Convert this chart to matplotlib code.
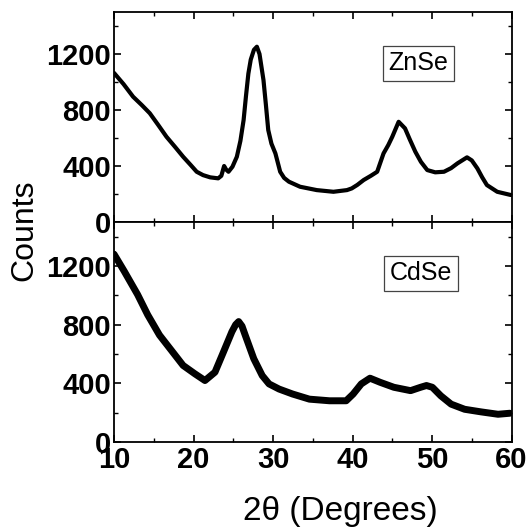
import matplotlib
matplotlib.use('Agg')
import matplotlib.pyplot as plt
from matplotlib.ticker import MultipleLocator

plt.rcParams.update({
    'font.family': ['Liberation Sans', 'DejaVu Sans'],
    'axes.linewidth': 1.3,
    'xtick.direction': 'in',
    'ytick.direction': 'in',
    'xtick.major.size': 5,
    'ytick.major.size': 5,
    'xtick.minor.size': 3,
    'ytick.minor.size': 3,
    'xtick.major.width': 1.2,
    'ytick.major.width': 1.2,
    'xtick.minor.width': 1.0,
    'ytick.minor.width': 1.0,
})

# ZnSe pattern
znse_2theta = [10.0, 11.2, 12.4, 13.5, 14.5, 15.6, 16.6, 17.7, 18.7, 19.6, 20.4,
               21.2, 22.1, 23.1, 23.5, 23.85, 24.1, 24.4, 24.9, 25.45, 25.9,
               26.3, 26.6, 26.9, 27.2, 27.6, 27.97, 28.3, 28.8, 29.1, 29.4,
               29.8, 30.3, 30.9, 31.4, 32.0, 33.4, 35.5, 37.6, 39.3, 39.9,
               40.6, 41.4, 42.3, 43.1, 43.9, 44.5, 45.0, 45.8, 46.6, 47.2,
               47.9, 48.6, 49.4, 50.4, 51.5, 52.4, 53.2, 54.4, 55.0, 55.7,
               56.3, 56.9, 58.2, 59.9]
znse_counts = [1065, 985, 895, 835, 777, 690, 609, 535, 466, 410, 359,
               335, 319, 312, 330, 400, 375, 359, 395, 466, 580,
               728, 900, 1060, 1160, 1230, 1252, 1200, 1014, 840, 657,
               560, 490, 359, 315, 288, 252, 228, 216, 228, 240,
               265, 300, 330, 359, 490, 550, 609, 716, 669, 590,
               502, 430, 371, 355, 359, 385, 419, 462, 440, 383,
               320, 264, 216, 193]

# CdSe pattern
cdse_2theta = [10.0, 11.27, 12.97, 14.24, 15.72, 17.2, 18.69, 20.17, 21.44,
               22.7, 23.77, 24.83, 25.3, 25.68, 26.1, 26.5, 27.58, 28.64, 29.5,
               30.76, 32.46, 34.58, 37.1, 39.2, 40.08, 41.1, 42.2, 43.47,
               45.2, 47.3, 48.56, 49.3, 50.04, 51.1, 52.4, 54.1, 56.2, 58.3,
               59.8]
cdse_counts = [1281, 1166, 1005, 867, 729, 626, 522, 465, 419,
               476, 614, 752, 800, 821, 790, 729, 568, 453, 396,
               361, 327, 292, 281, 281, 327, 396, 435, 407,
               373, 350, 373, 385, 373, 315, 258, 223, 205, 189,
               196]

x_ticks = [10, 20, 30, 40, 50, 60]
y_ticks = [0, 400, 800, 1200]

fig = plt.figure(figsize=(5.29, 5.29), dpi=100)
ax_top = fig.add_axes([0.2155, 0.5803, 0.7515, 0.397])
ax_bot = fig.add_axes([0.2155, 0.1645, 0.7515, 0.4158])

ax_top.plot(znse_2theta, znse_counts, color='black', lw=3.0,
            solid_joinstyle='round', solid_capstyle='round')
ax_bot.plot(cdse_2theta, cdse_counts, color='black', lw=5.0,
            solid_joinstyle='round', solid_capstyle='round')

for ax, name, pos in [(ax_top, 'ZnSe', (0.765, 0.757)),
                      (ax_bot, 'CdSe', (0.772, 0.768))]:
    ax.set_xlim(10, 60)
    ax.set_ylim(0, 1500)
    ax.set_xticks(x_ticks)
    ax.set_yticks(y_ticks)
    ax.xaxis.set_minor_locator(MultipleLocator(5))
    ax.yaxis.set_minor_locator(MultipleLocator(200))
    ax.tick_params(which='both', top=True, right=True)
    ax.tick_params(axis='y', which='major', pad=2)
    ax.tick_params(axis='x', which='major', pad=3)
    for lab in ax.get_yticklabels() + ax.get_xticklabels():
        lab.set_fontsize(21)
        lab.set_fontweight('bold')
    ax.text(pos[0], pos[1], name, transform=ax.transAxes, fontsize=18,
            ha='center', va='center',
            bbox=dict(boxstyle='square,pad=0.22', facecolor='white',
                      edgecolor='#444444', lw=0.9))

ax_top.tick_params(axis='x', labelbottom=False)

fig.text(0.046, 0.565, 'Counts', rotation=90, ha='center', va='center',
         fontsize=23)
fig.text(0.643, 0.034, '2\u03b8 (Degrees)', ha='center', va='center',
         fontsize=24)

fig.savefig('out.png', dpi=100)
